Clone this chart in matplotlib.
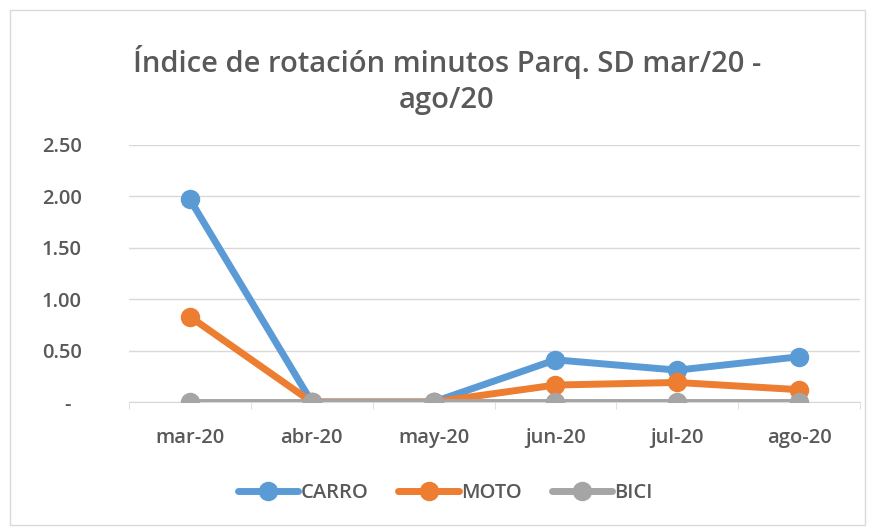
import matplotlib
matplotlib.use("Agg")
import matplotlib.pyplot as plt
from matplotlib.patches import Rectangle

categories = ["mar-20", "abr-20", "may-20", "jun-20", "jul-20", "ago-20"]
carro = [1.97, 0.0, 0.0, 0.41, 0.31, 0.44]
moto = [0.83, 0.0, 0.0, 0.165, 0.19, 0.12]
bici = [0.0, 0.0, 0.0, 0.0, 0.0, 0.0]
series_names = ["CARRO", "MOTO", "BICI"]
colors = ["#5B9BD5", "#ED7D31", "#A5A5A5"]
yticks = [0, 0.5, 1.0, 1.5, 2.0, 2.5]
ytick_labels = ["-  ", "0.50", "1.00", "1.50", "2.00", "2.50"]
title = "Índice de rotación minutos Parq. SD mar/20 -\nago/20"

plt.rcParams['font.family'] = ['Open Sans', 'DejaVu Sans']
txt = "#595959"

fig = plt.figure(figsize=(8.73, 5.32), dpi=100)
fig.patches.append(Rectangle((10/873, 1-525/532), 855/873, 515/532, transform=fig.transFigure,
                             fill=False, edgecolor="#D9D9D9", linewidth=1.0))
ax = fig.add_axes([129/873, 1-402/532, 731/873, 257/532])

x = list(range(len(categories)))
for vals, name, c in zip([carro, moto, bici], series_names, colors):
    ax.plot(x, vals, color=c, linewidth=5, marker="o", markersize=13, label=name,
            solid_capstyle="round", zorder=3)

ax.set_xlim(-0.5, len(categories) - 0.5)
ax.set_ylim(0, 2.5)
ax.set_yticks(yticks)
ax.set_yticklabels(ytick_labels)
ax.set_xticks(x)
ax.set_xticklabels(categories)
ax.set_xticks([i - 0.5 for i in range(len(categories) + 1)], minor=True)
ax.grid(axis="y", color="#D9D9D9", linewidth=1)
ax.set_axisbelow(True)
for s in ["top", "right", "left"]:
    ax.spines[s].set_visible(False)
ax.spines["bottom"].set_color("#D9D9D9")
ax.tick_params(axis="y", length=0, pad=34, labelsize=14.5, labelcolor=txt)
for lbl in ax.get_yticklabels():
    lbl.set_horizontalalignment("right")
    lbl.set_fontweight("semibold")
ax.tick_params(axis="x", which="major", length=0, pad=19, labelsize=14.5, labelcolor=txt)
for lbl in ax.get_xticklabels():
    lbl.set_fontweight("semibold")
ax.tick_params(axis="x", which="minor", length=5, color="#D9D9D9")

fig.text(447/873, 1-80/532, title, ha="center", va="center", fontsize=21, color=txt,
         linespacing=1.3, fontweight="semibold")

leg = fig.legend(loc="center", bbox_to_anchor=(0.51, 1-493/532), ncol=3, frameon=False,
                 labelcolor=txt, handlelength=3.0, handletextpad=0.1,
                 columnspacing=1.5, prop={'weight': 'semibold', 'size': 14.5})

fig.savefig("out.png", dpi=100)
